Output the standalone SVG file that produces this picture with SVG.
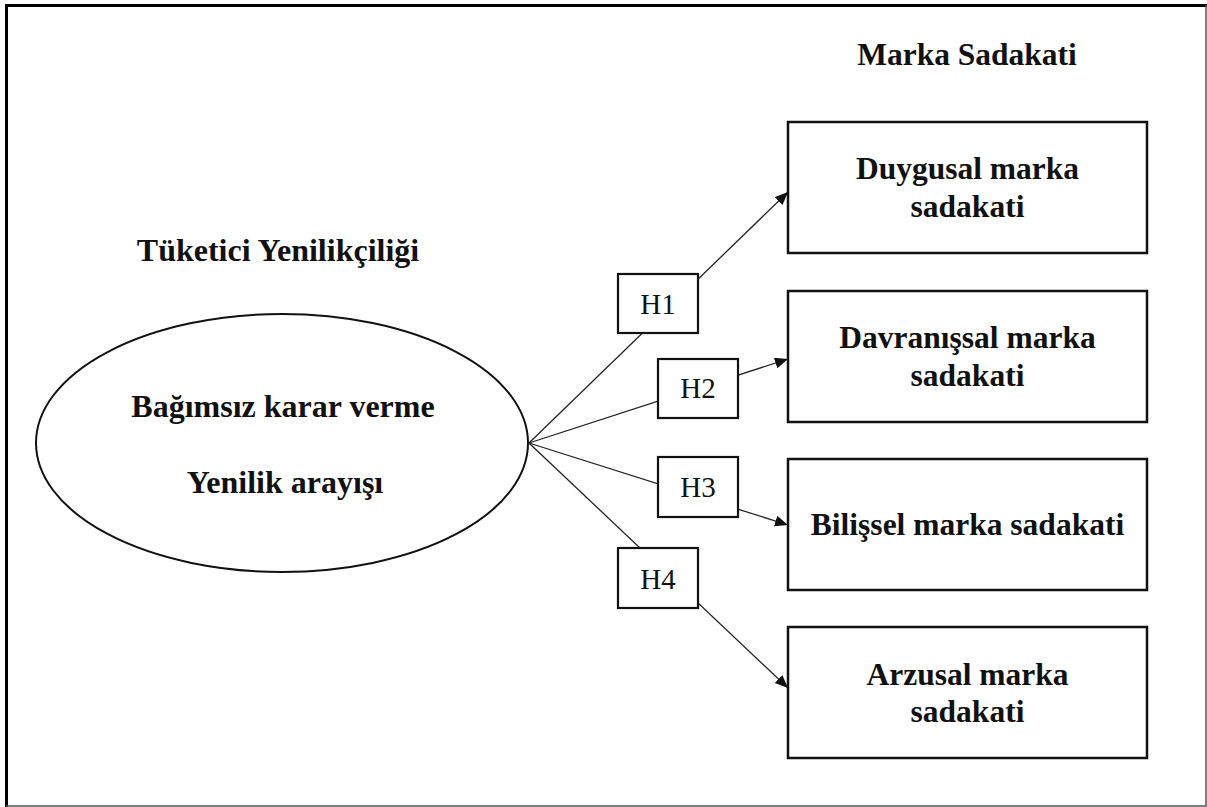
<svg xmlns="http://www.w3.org/2000/svg" width="1207" height="807" viewBox="0 0 1207 807">
<style>
.b{font-family:"Liberation Serif","Times New Roman",serif;font-weight:bold;font-size:32px;fill:#111;text-anchor:middle}
.bs{font-size:31.5px}
.h{font-family:"Liberation Serif","Times New Roman",serif;font-size:29px;fill:#111;text-anchor:middle}
.box{fill:#fff;stroke:#111;stroke-width:2.5}
.hb{fill:#fff;stroke:#111;stroke-width:2.2}
.con{stroke:#222;stroke-width:1.3;fill:none}
</style>
<defs>
<marker id="arr" markerUnits="userSpaceOnUse" markerWidth="14" markerHeight="12" refX="13" refY="5.5" orient="auto">
<path d="M0,0 L13,5.5 L0,11 z" fill="#111"/>
</marker>
</defs>
<rect width="1207" height="807" fill="#fff"/>
<path d="M6.5,807 V5.5 H1207" fill="none" stroke="#000" stroke-width="3"/>
<path d="M1206,5 V806 H6" fill="none" stroke="#555" stroke-width="1.5"/>
<g id="connectors">
<line class="con" x1="529" y1="443" x2="788" y2="192" marker-end="url(#arr)"/>
<line class="con" x1="529" y1="443" x2="788" y2="359" marker-end="url(#arr)"/>
<line class="con" x1="529" y1="443" x2="788" y2="525" marker-end="url(#arr)"/>
<line class="con" x1="529" y1="443" x2="788" y2="688" marker-end="url(#arr)"/>
</g>
<g id="title-left"><text class="b" x="278" y="261">Tüketici Yenilikçiliği</text></g>
<g id="title-right"><text class="b bs" x="967" y="65">Marka Sadakati</text></g>
<g id="ellipse">
<ellipse cx="282" cy="443" rx="246" ry="129" fill="#fff" stroke="#111" stroke-width="2"/>
<text class="b" x="283" y="417">Bağımsız karar verme</text>
<text class="b" x="285" y="493">Yenilik arayışı</text>
</g>
<g id="h1"><rect class="hb" x="618" y="274" width="80" height="59"/><text class="h" x="658" y="314">H1</text></g>
<g id="h2"><rect class="hb" x="658" y="359" width="80" height="59"/><text class="h" x="698" y="398">H2</text></g>
<g id="h3"><rect class="hb" x="658" y="457" width="80" height="60"/><text class="h" x="698" y="497">H3</text></g>
<g id="h4"><rect class="hb" x="618" y="548" width="80" height="60"/><text class="h" x="658" y="589">H4</text></g>
<g id="duygusal"><rect class="box" x="788" y="122" width="359" height="131"/><text class="b bs" x="967.5" y="179">Duygusal marka</text><text class="b bs" x="967.5" y="217">sadakati</text></g>
<g id="davranissal"><rect class="box" x="788" y="291" width="359" height="131"/><text class="b bs" x="967.5" y="348">Davranışsal marka</text><text class="b bs" x="967.5" y="386">sadakati</text></g>
<g id="bilissel"><rect class="box" x="788" y="459" width="359" height="131"/><text class="b bs" x="967.5" y="535">Bilişsel marka sadakati</text></g>
<g id="arzusal"><rect class="box" x="788" y="627" width="359" height="131"/><text class="b bs" x="967.5" y="685">Arzusal marka</text><text class="b bs" x="967.5" y="722">sadakati</text></g>
</svg>
